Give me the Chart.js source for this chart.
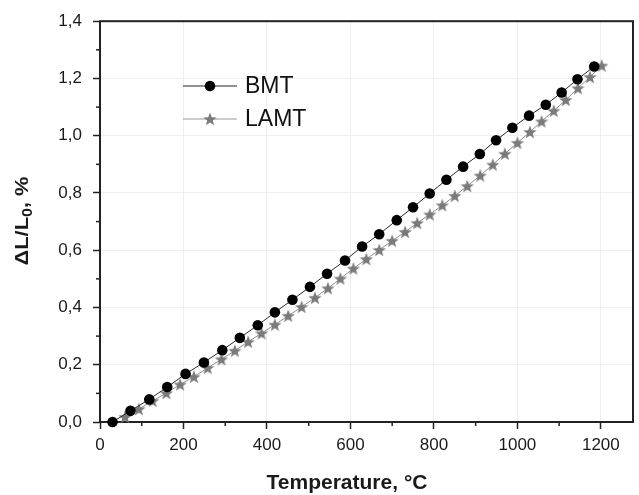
<!DOCTYPE html>
<html lang="en">
<head>
<meta charset="UTF-8" />
<title>Thermal expansion BMT / LAMT</title>
<script src="https://cdn.jsdelivr.net/npm/chart.js"></script>
<style>
  body { margin: 0; background: #fff; }
</style>
</head>
<body>
<canvas id="dilChart" width="639" height="495"></canvas>
<script>
  // temperature, °C  /  dL/L0, %
  const bmtTemp = [30, 73, 118, 161, 205, 249, 293, 335, 378, 419, 461, 503, 544, 587, 628,
                   669, 711, 750, 790, 830, 870, 910, 949, 988, 1028, 1068, 1106, 1144, 1184];
  const bmtVal  = [0, 0.039, 0.079, 0.122, 0.168, 0.208, 0.251, 0.294, 0.338, 0.383, 0.427, 0.472, 0.518, 0.564, 0.613,
                   0.656, 0.705, 0.750, 0.798, 0.846, 0.892, 0.936, 0.984, 1.028, 1.070, 1.108, 1.151, 1.197, 1.242];

  const lamtTemp = [60, 93, 126, 159, 192, 225, 258, 291, 323, 355, 387, 419, 451, 483, 515, 546, 576, 607, 638,
                    669, 700, 731, 760, 790, 820, 850, 880, 911, 941, 970, 1000, 1030, 1058, 1087, 1116, 1145, 1174, 1202];
  const lamtVal  = [0.018, 0.045, 0.074, 0.101, 0.131, 0.158, 0.189, 0.219, 0.249, 0.280, 0.310, 0.340, 0.371, 0.402,
                    0.434, 0.467, 0.501, 0.536, 0.569, 0.601, 0.633, 0.664, 0.695, 0.725, 0.757, 0.790, 0.824, 0.861,
                    0.899, 0.937, 0.975, 1.013, 1.050, 1.087, 1.125, 1.166, 1.205, 1.245];

  const seriesNames = ['BMT', 'LAMT'];

  const FONT = '"Liberation Sans", Arial, sans-serif';

  function makeStar(size, color) {
    const c = document.createElement('canvas');
    c.width = c.height = size;
    const g = c.getContext('2d');
    const r = size / 2, ri = r * 0.42;
    g.beginPath();
    for (let i = 0; i < 10; i++) {
      const a = -Math.PI / 2 + i * Math.PI / 5;
      const rr = i % 2 ? ri : r;
      g.lineTo(r + rr * Math.cos(a), r + 0.6 + rr * Math.sin(a));
    }
    g.closePath();
    g.fillStyle = color;
    g.fill();
    return c;
  }
  const star = makeStar(14, '#7a7a7a');

  const pts = (xs, ys) => xs.map((x, i) => ({ x, y: ys[i] }));

  // frame, minor ticks, titles and the inset legend
  const decor = {
    id: 'decor',
    beforeDatasetsDraw(chart) {
      const { ctx, chartArea: a, scales } = chart;
      ctx.save();
      ctx.strokeStyle = '#222';
      ctx.lineWidth = 1.5;
      const xt = scales.x.ticks.map(t => t.value);
      for (let i = 0; i < xt.length; i++) {
        const v = xt[i] + 100;
        if (v > scales.x.max) break;
        const px = scales.x.getPixelForValue(v);
        ctx.beginPath(); ctx.moveTo(px, a.bottom); ctx.lineTo(px, a.bottom + 4); ctx.stroke();
      }
      const yt = scales.y.ticks.map(t => t.value);
      for (let i = 0; i < yt.length - 1; i++) {
        const py = scales.y.getPixelForValue(yt[i] + 0.1);
        ctx.beginPath(); ctx.moveTo(a.left, py); ctx.lineTo(a.left - 4, py); ctx.stroke();
      }
      ctx.lineWidth = 2;
      ctx.strokeRect(a.left, a.top, a.right - a.left, a.bottom - a.top);
      ctx.restore();
    },
    afterDraw(chart) {
      const { ctx, chartArea: a } = chart;
      ctx.save();
      ctx.fillStyle = '#1a1a1a';

      // x title
      ctx.font = 'bold 21px ' + FONT;
      ctx.textAlign = 'center';
      ctx.textBaseline = 'alphabetic';
      ctx.fillText('Temperature, °C', 347, 489);

      // y title with subscript
      ctx.translate(23, 221);
      ctx.rotate(-Math.PI / 2);
      ctx.scale(1.15, 1);
      const big = 'bold 19px ' + FONT, small = 'bold 14px ' + FONT;
      ctx.font = big; const w1 = ctx.measureText('\u0394L/L').width;
      ctx.font = small; const w2 = ctx.measureText('0').width;
      ctx.font = big; const w3 = ctx.measureText(', %').width;
      let x0 = -(w1 + w2 + w3) / 2;
      ctx.textAlign = 'left';
      ctx.textBaseline = 'middle';
      ctx.font = big; ctx.fillText('\u0394L/L', x0, 0);
      ctx.font = small; ctx.fillText('0', x0 + w1, 5);
      ctx.font = big; ctx.fillText(', %', x0 + w1 + w2, 0);
      ctx.restore();

      // legend
      ctx.save();
      const lx0 = a.left + 83, lx1 = a.left + 137, mx = a.left + 110;
      const rows = [86, 119];
      ctx.lineWidth = 1;
      ctx.strokeStyle = '#222';
      ctx.beginPath(); ctx.moveTo(lx0, rows[0]); ctx.lineTo(lx1, rows[0]); ctx.stroke();
      ctx.fillStyle = '#000';
      ctx.beginPath(); ctx.arc(mx, rows[0], 5.3, 0, Math.PI * 2); ctx.fill();
      ctx.strokeStyle = '#999';
      ctx.beginPath(); ctx.moveTo(lx0, rows[1]); ctx.lineTo(lx1, rows[1]); ctx.stroke();
      ctx.drawImage(star, mx - star.width / 2, rows[1] - star.height / 2);
      ctx.fillStyle = '#111';
      ctx.font = '23px ' + FONT;
      ctx.textAlign = 'left';
      ctx.textBaseline = 'middle';
      ctx.fillText(seriesNames[0], a.left + 145, rows[0] + 1);
      ctx.fillText(seriesNames[1], a.left + 145, rows[1] + 1);
      ctx.restore();
    }
  };

  const majorGrid = (step) => (c) => {
    const v = c.tick ? c.tick.value : 0;
    return Math.abs(v / step - Math.round(v / step)) < 1e-6 ? '#efefef' : 'transparent';
  };

  new Chart(document.getElementById('dilChart'), {
    type: 'line',
    data: {
      datasets: [{
        label: seriesNames[0],
        data: pts(bmtTemp, bmtVal),
        borderColor: '#2a2a2a',
        borderWidth: 1,
        pointStyle: 'circle',
        pointRadius: 5.3,
        pointBackgroundColor: '#000',
        pointBorderWidth: 0,
        clip: false
      }, {
        label: seriesNames[1],
        data: pts(lamtTemp, lamtVal),
        borderColor: '#8e8e8e',
        borderWidth: 1,
        pointStyle: star,
        clip: false
      }]
    },
    options: {
      responsive: false,
      animation: false,
      layout: { padding: { top: 16, right: 6, left: 0, bottom: 0 } },
      plugins: {
        legend: { display: false },
        tooltip: { enabled: false }
      },
      scales: {
        x: {
          type: 'linear',
          min: 0,
          max: 1277,
          afterFit: (s) => { s.height = 73; },
          border: { display: false },
          grid: { color: majorGrid(200), tickColor: '#222', tickLength: 7, tickWidth: 1.5 },
          ticks: {
            stepSize: 200,
            includeBounds: false,
            padding: 6,
            color: '#1a1a1a',
            font: { family: FONT, size: 17 },
            callback: (v) => String(v)
          }
        },
        y: {
          min: 0,
          max: 1.4,
          afterFit: (s) => { s.width = 100; },
          border: { display: false },
          grid: { color: majorGrid(0.2), tickColor: '#222', tickLength: 7, tickWidth: 1.5 },
          ticks: {
            stepSize: 0.2,
            padding: 11,
            color: '#1a1a1a',
            font: { family: FONT, size: 17 },
            callback: (v) => v.toFixed(1).replace('.', ',')
          }
        }
      }
    },
    plugins: [decor]
  });
</script>
</body>
</html>
